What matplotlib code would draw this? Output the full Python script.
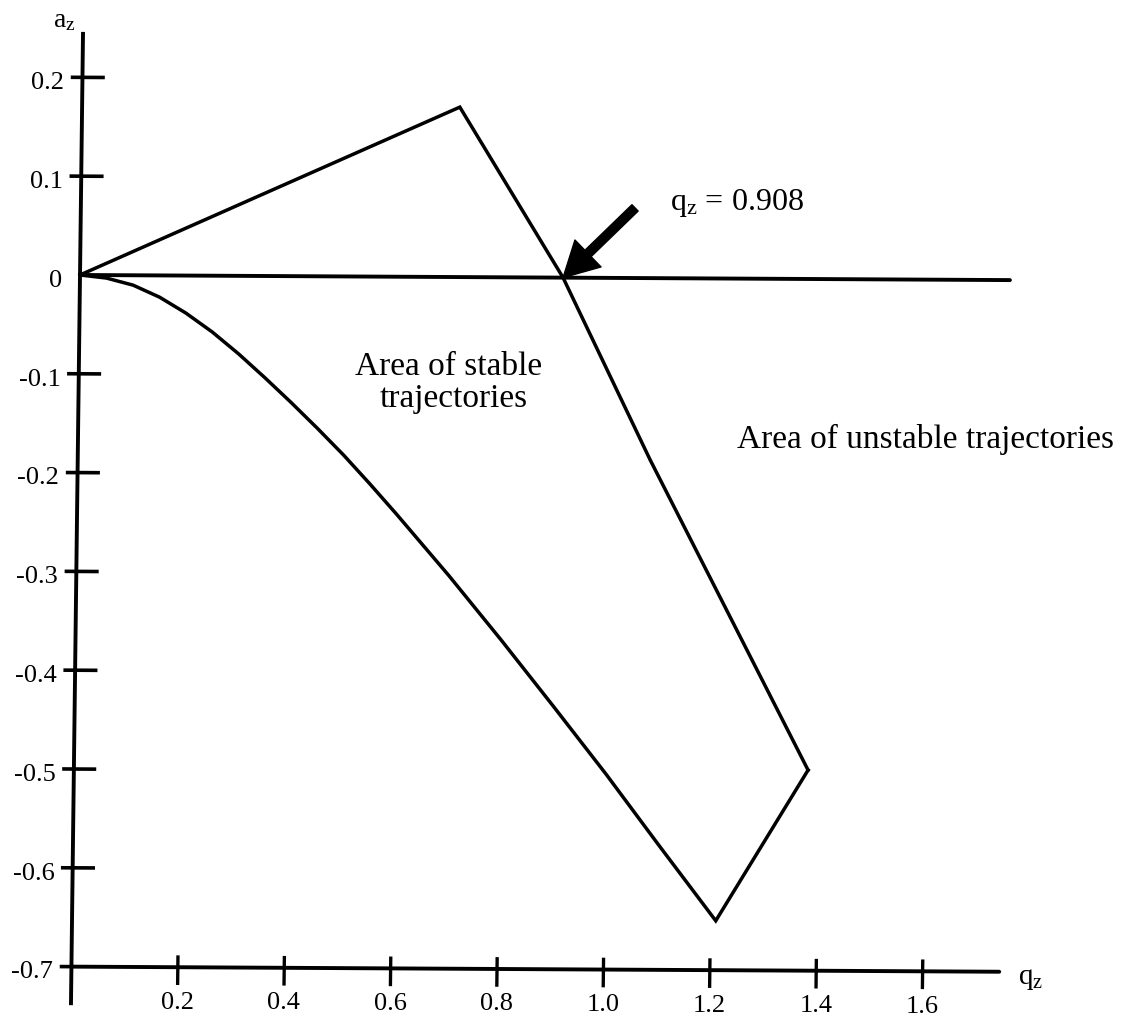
import numpy as np
import matplotlib
matplotlib.use("Agg")
import matplotlib.pyplot as plt
from matplotlib.transforms import Affine2D

plt.rcParams['font.family'] = ['Liberation Serif', 'DejaVu Serif']
plt.rcParams['mathtext.fontset'] = 'custom'
plt.rcParams['mathtext.rm'] = 'Liberation Serif'
plt.rcParams['mathtext.it'] = 'Liberation Serif:italic'

# stability boundary in the (q_z, a_z) plane
upper_q = [0.0, 0.71, 0.908, 1.076, 1.38]
upper_a = [0.0, 0.172, 0.0, -0.184, -0.497]

lower_q = [0.0, 0.05, 0.1, 0.15, 0.2, 0.25, 0.3, 0.35, 0.4, 0.45, 0.5, 0.55, 0.6,
           0.7, 0.8, 0.9, 1.0, 1.1, 1.21, 1.38]
lower_a = [0.0, -0.003, -0.010, -0.022, -0.038, -0.057, -0.079, -0.103, -0.128, -0.154,
           -0.181, -0.210, -0.240, -0.302, -0.367, -0.434, -0.502, -0.573, -0.65, -0.497]

zero_q = [0.0, 1.748]
zero_a = [0.0, 0.0]

q_cross = 0.908

xticks = [0.2, 0.4, 0.6, 0.8, 1.0, 1.2, 1.4, 1.6]
xlabels = ['0.2', '0.4', '0.6', '0.8', '1.0', '1.2', '1.4', '1.6']
yticks = [0.2, 0.1, -0.1, -0.2, -0.3, -0.4, -0.5, -0.6, -0.7]
ylabels_all = [0.2, 0.1, 0.0, -0.1, -0.2, -0.3, -0.4, -0.5, -0.6, -0.7]
ylabels = ['0.2', '0.1', '0', '-0.1', '-0.2', '-0.3', '-0.4', '-0.5', '-0.6', '-0.7']

fig = plt.figure(figsize=(11.25, 10.19), dpi=100)
ax = fig.add_axes([0, 0, 1, 1])
ax.set_xlim(-0.1504, 1.9643)
ax.set_ylim(-0.7530, 0.2783)
ax.axis('off')

# slight skew of the whole drawing around the origin
ox, oy = ax.transData.transform((0, 0))
a, b = 0.0124, 0.0055
skew = Affine2D(np.array([[1.0, a, -a * oy], [-b, 1.0, b * ox], [0, 0, 1.0]]))
tr = ax.transData + skew

lw_ax = 2.8
lw = 2.5
k = 'black'

# axes drawn by hand
ax.plot([0, 0], [0.246, -0.739], color=k, lw=lw_ax, transform=tr, solid_capstyle='butt')
ax.plot([0, 1.744], [-0.7, -0.7], color=k, lw=lw_ax, transform=tr, solid_capstyle='round')
for t in xticks:
    ax.plot([t, t], [-0.688, -0.718], color=k, lw=2.4, transform=tr, solid_capstyle='butt')
for t in yticks:
    ax.plot([-0.022, 0.042 if t != -0.7 else 0.0], [t, t], color=k, lw=2.6, transform=tr,
            solid_capstyle='butt')

for t, s in zip(xticks, xlabels):
    ax.text(t, -0.742, s, ha='center', va='baseline', fontsize=19, transform=tr)
for t, s in zip(ylabels_all, ylabels):
    ax.text(-0.034, t - 0.012, s, ha='right', va='baseline', fontsize=19, transform=tr)

ax.text(-0.057, 0.251, r'$\mathrm{a_z}$', ha='left', va='baseline', fontsize=20, transform=tr)
ax.text(1.780, -0.7123, r'$\mathrm{q_z}$', ha='left', va='baseline', fontsize=21, transform=tr)

# boundary curves
ax.plot(zero_q, zero_a, color=k, lw=2.8, transform=tr, solid_capstyle='round')
ax.plot(upper_q, upper_a, color=k, lw=lw, transform=tr, solid_joinstyle='miter')
ax.plot(lower_q, lower_a, color=k, lw=lw, transform=tr, solid_joinstyle='miter')

# marker for the crossing point
ax.annotate('', xy=(q_cross, 0.0), xycoords=tr, xytext=(1.0417, 0.0710), textcoords=tr,
            arrowprops=dict(arrowstyle='simple,head_length=1.25,head_width=1.35,tail_width=0.32',
                            mutation_scale=20, color=k, shrinkA=0, shrinkB=0))
ax.text(1.1075, 0.069, r'$\mathrm{q_z}$ = %.3f' % q_cross, ha='left', va='baseline',
        fontsize=23, transform=tr)

ax.text(0.696, -0.0992, 'Area of stable', ha='center', va='baseline', fontsize=24, transform=tr)
ax.text(0.706, -0.1315, 'trajectories', ha='center', va='baseline', fontsize=24, transform=tr)
ax.text(1.594, -0.170, 'Area of unstable trajectories', ha='center', va='baseline',
        fontsize=24, transform=tr)

fig.savefig('out.png', dpi=100, facecolor='white')
